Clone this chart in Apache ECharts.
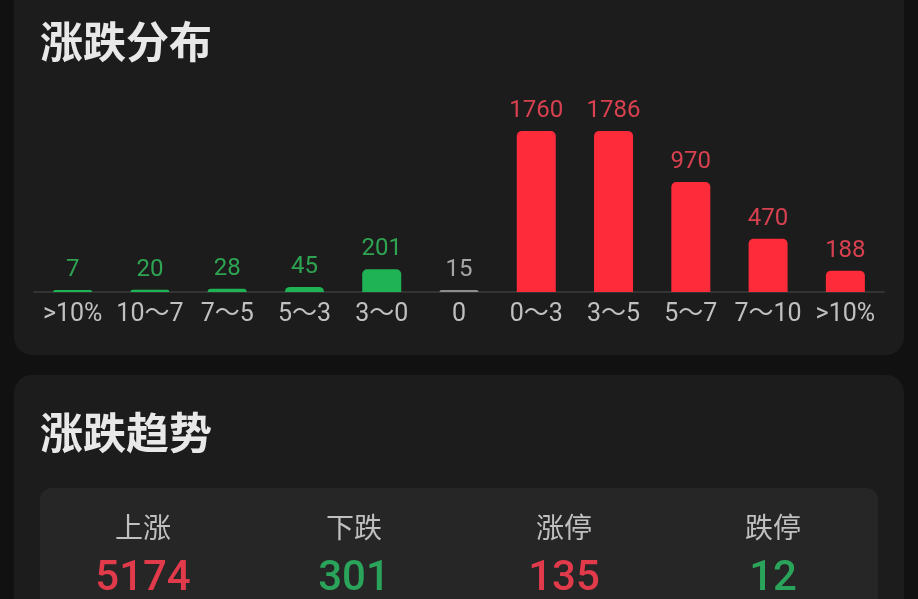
<!DOCTYPE html>
<html>
<head>
<meta charset="utf-8">
<script src="https://cdn.jsdelivr.net/npm/echarts@6/dist/echarts.min.js"></script>
<style>
  html, body { margin: 0; padding: 0; background: #111111; }
  #chart { width: 918px; height: 599px; }
</style>
</head>
<body>
<div id="chart"></div>
<script>
// 涨跌分布
let categories = [">10%", "10～7", "7～5", "5～3", "3～0", "0", "0～3", "3～5", "5～7", "7～10", ">10%"];
let counts = [7, 20, 28, 45, 201, 15, 1760, 1786, 970, 470, 188];
// 0 = 下跌, 1 = 平盘, 2 = 上涨
let kinds = [0, 0, 0, 0, 0, 1, 2, 2, 2, 2, 2];

// 涨跌趋势
let statNames = ["上涨", "下跌", "涨停", "跌停"];
let statValues = ["5174", "301", "135", "12"];
let statKinds = [2, 0, 2, 0];

let barColors = ["#1fb356", "#8c8c8c", "#fe2b3b"];
let labelColors = ["#2ea453", "#a6a6a6", "#d8414f"];
let statColors = ["#2aa45a", "#a6a6a6", "#e03a4b"];

let chart = echarts.init(document.getElementById("chart"));

let barData = counts.map(function (v, i) {
    return {
        value: v,
        itemStyle: { color: barColors[kinds[i]] },
        label: { color: labelColors[kinds[i]] }
    };
});

let statGraphics = [];
let colX = [143, 354, 564, 773];
statNames.forEach(function (name, i) {
    statGraphics.push({
        type: "text",
        x: colX[i], y: 527,
        style: {
            text: name, fill: "#c0c0c0",
            font: '28px "Noto Sans CJK SC"',
            align: "center", verticalAlign: "middle"
        }
    });
    statGraphics.push({
        type: "text",
        x: colX[i], y: 579,
        style: {
            text: statValues[i], fill: statColors[statKinds[i]],
            font: '500 42px Roboto, "Noto Sans CJK SC"',
            align: "center", verticalAlign: "middle"
        }
    });
});

let option = {
    backgroundColor: "#111111",
    animation: false,
    graphic: [
        {
            type: "rect", z: -10,
            shape: { x: 14, y: -30, width: 890, height: 385, r: 18 },
            style: { fill: "#1c1c1c" }
        },
        {
            type: "rect", z: -10,
            shape: { x: 14, y: 375, width: 890, height: 260, r: 18 },
            style: { fill: "#1c1c1c" }
        },
        {
            type: "rect", z: -9,
            shape: { x: 40, y: 488, width: 838, height: 140, r: 12 },
            style: { fill: "#262626" }
        },
        {
            type: "text", x: 40, y: 42,
            style: {
                text: "涨跌分布", fill: "#e8e8e8",
                font: 'bold 43px "Noto Sans CJK SC"',
                verticalAlign: "middle"
            }
        },
        {
            type: "text", x: 40, y: 433,
            style: {
                text: "涨跌趋势", fill: "#e8e8e8",
                font: 'bold 43px "Noto Sans CJK SC"',
                verticalAlign: "middle"
            }
        }
    ].concat(statGraphics),
    grid: {
        left: 34, right: 34, top: 131, bottom: 307
    },
    xAxis: {
        type: "category",
        data: categories,
        axisLine: { lineStyle: { color: "#333333", width: 2 } },
        axisTick: { show: false },
        axisLabel: {
            interval: 0,
            color: "#c0c0c0",
            fontSize: 25,
            margin: 10,
            fontFamily: 'Roboto, "Noto Sans CJK SC", sans-serif'
        }
    },
    yAxis: {
        type: "value",
        min: 0,
        max: 1420,
        show: false,
        splitLine: { show: false }
    },
    series: [
        {
            type: "bar",
            data: barData,
            barWidth: 39,
            barMinHeight: 2,
            clip: true,
            itemStyle: { borderRadius: [5, 5, 0, 0] },
            label: {
                show: true,
                position: "top",
                distance: 8,
                fontSize: 24,
                fontFamily: 'Roboto, sans-serif'
            }
        }
    ]
};

chart.setOption(option);
</script>
</body>
</html>
